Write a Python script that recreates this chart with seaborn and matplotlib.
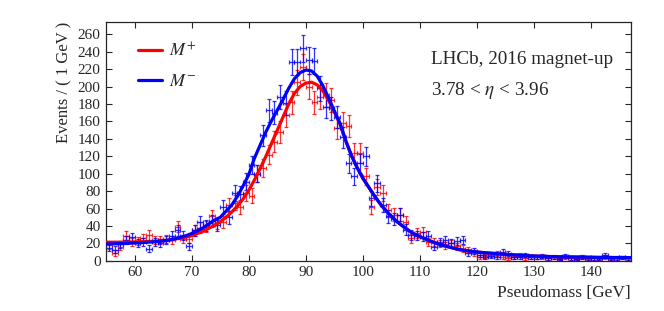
import matplotlib
matplotlib.use("Agg")
import matplotlib.pyplot as plt
import numpy as np
import pandas as pd
import seaborn as sns

# bin centres, 1 GeV bins from 55 to 147
mass = np.arange(55.5, 147, 1.0)

counts_plus = [18, 9, 16, 29, 22, 23, 26, 30, 24, 24, 25, 24, 39, 25, 25,
               35, 38, 40, 51, 43, 45, 64, 67, 62, 78, 75, 100, 107, 122, 137,
               148, 167, 182, 205, 222, 200, 182, 188, 190, 185, 152, 158, 155, 124, 124,
               97, 62, 85, 78, 58, 53, 53, 45, 26, 32, 33, 22, 22, 20, 18,
               20, 17, 14, 12, 9, 5, 6, 7, 8, 5, 3, 5, 7, 3, 4,
               4, 5, 3, 5, 2, 4, 3, 2, 4, 2, 3, 2, 5, 2, 3,
               4, 3]
counts_minus = [15, 13, 19, 24, 27, 21, 22, 14, 22, 21, 24, 29, 35, 29, 17,
                35, 45, 41, 46, 41, 62, 50, 78, 77, 91, 110, 100, 144, 173, 170,
                188, 181, 228, 228, 244, 230, 229, 198, 177, 175, 165, 142, 112, 97, 112,
                120, 72, 89, 64, 51, 48, 53, 36, 30, 29, 28, 29, 16, 22, 24,
                21, 23, 24, 9, 11, 7, 5, 6, 5, 10, 8, 5, 4, 7, 5,
                4, 6, 3, 4, 2, 6, 3, 2, 5, 3, 3, 3, 7, 3, 3,
                4, 3]

# fitted curves, read every 1 GeV from 55 to 147
fit_mass = np.arange(55, 148, 1.0)
fit_plus = [21.5, 21.5, 21.5, 21.5, 21.6, 21.8, 22, 22.2, 22.4, 22.7, 23, 24, 25, 26, 27.5,
            29, 31.5, 34, 37.5, 41, 45, 50, 56, 63, 71, 81, 93, 106, 120, 135,
            150, 165, 180, 192, 200, 204, 205, 202, 195, 184, 171, 157, 138, 121, 107,
            95, 85, 75, 66, 58, 51, 45, 40, 35, 31, 28, 25, 22.5, 20, 18,
            16.2, 14.5, 13, 12, 11, 10.2, 9.6, 9.1, 8.6, 8.1, 7.6, 7.1, 6.7, 6.3, 6,
            5.7, 5.4, 5.2, 5, 4.8, 4.7, 4.6, 4.5, 4.4, 4.3, 4.2, 4.1, 4, 4, 3.9,
            3.9, 3.8, 3.8]
fit_minus = [19.5, 19.6, 19.8, 20, 20.3, 20.6, 21, 21.3, 21.8, 22.3, 23, 24, 25.3, 27, 29,
             31.5, 34.5, 38, 42.5, 47, 50, 57, 64, 74, 86, 99, 118, 133, 148, 161,
             173, 185, 198, 209, 216, 219, 218, 212, 201, 187, 172, 158, 138, 121, 107,
             95, 85, 75, 66, 58, 51, 45, 40, 35, 31, 28, 25, 22.5, 20, 18,
             16.2, 14.5, 13, 12, 11, 10.2, 9.6, 9.1, 8.6, 8.1, 7.6, 7.1, 6.7, 6.3, 6,
             5.7, 5.4, 5.2, 5, 4.8, 4.7, 4.6, 4.5, 4.4, 4.3, 4.2, 4.1, 4, 4, 3.9,
             3.9, 3.8, 3.8]

labels = [r"$M^{+}$", r"$M^{-}$"]
colors = ["#ff0000", "#0000ff"]

sns.set_style("ticks")
plt.rcParams["font.family"] = ["Liberation Serif", "DejaVu Serif"]
plt.rcParams["mathtext.fontset"] = "stix"

fig = plt.figure(figsize=(6.64, 3.11), dpi=100)
ax = fig.add_axes([0.16, 0.161, 0.79, 0.768])

for counts, col in zip([counts_plus, counts_minus], colors):
    c = np.array(counts, dtype=float)
    ax.errorbar(mass, c, xerr=0.5, yerr=np.sqrt(c), fmt="none", ecolor=col,
                elinewidth=0.9, capsize=1.6, capthick=0.9, alpha=0.8, zorder=2)

fits = pd.DataFrame({
    "mass": np.concatenate([fit_mass, fit_mass]),
    "events": np.concatenate([fit_plus, fit_minus]),
    "charge": [labels[0]] * len(fit_mass) + [labels[1]] * len(fit_mass),
})
sns.lineplot(data=fits, x="mass", y="events", hue="charge", palette=colors,
             linewidth=2.3, ax=ax, zorder=3)

ax.set_xlim(55, 147)
ax.set_ylim(0, 274)
ax.set_xticks(np.arange(60, 141, 10))
ax.set_yticks(np.arange(0, 261, 20))
ax.tick_params(direction="in", length=4, width=0.8, top=True, right=True,
               labelsize=11, pad=4)
for s in ax.spines.values():
    s.set_linewidth(0.9)

ax.set_xlabel("Pseudomass [GeV]", fontsize=12.5, loc="right")
ax.set_ylabel("Events / ( 1 GeV )", fontsize=12, loc="top")

leg = ax.legend(loc="upper left", bbox_to_anchor=(0.03, 0.985), frameon=False,
                fontsize=13, handlelength=1.3, labelspacing=0.7, handletextpad=0.4)

ax.text(0.62, 0.845, "LHCb, 2016 magnet-up", transform=ax.transAxes, fontsize=13.8,
        va="center", ha="left")
ax.text(0.62, 0.715, r"3.78 < $\eta$ < 3.96", transform=ax.transAxes, fontsize=13.8,
        va="center", ha="left")

fig.savefig("out.png", dpi=100)
